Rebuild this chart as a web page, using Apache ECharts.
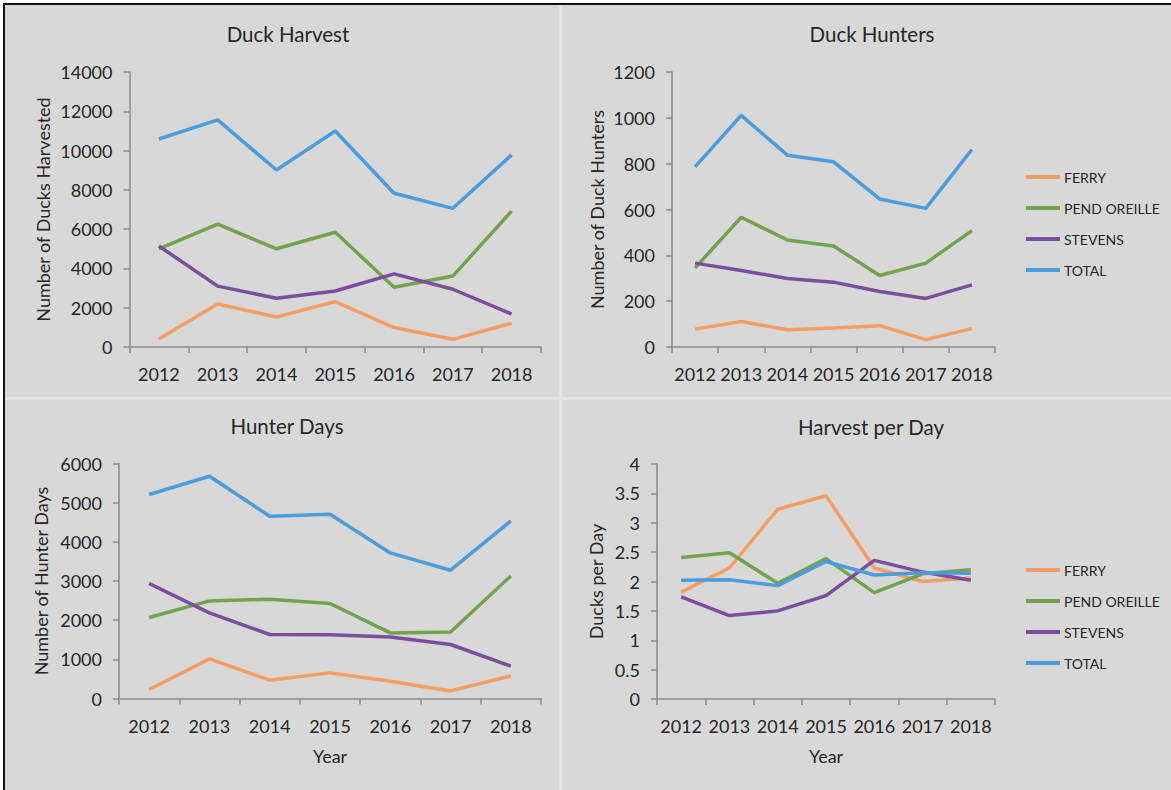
<!DOCTYPE html>
<html>
<head>
<meta charset="utf-8">
<script src="https://cdn.jsdelivr.net/npm/echarts@6/dist/echarts.min.js"></script>
<style>
  html, body { margin: 0; padding: 0; background: #ffffff; }
  #chart { width: 1171px; height: 790px; }
</style>
</head>
<body>
<div id="chart"></div>
<script>
// years on every x axis
const years = ["2012", "2013", "2014", "2015", "2016", "2017", "2018"];
const seriesNames = ["FERRY", "PEND OREILLE", "STEVENS", "TOTAL"];
const seriesColors = ["#f59d62", "#72a24e", "#7b4d9c", "#4a9cdc"];

// Duck Harvest
const harvestFerry = [410, 2190, 1530, 2310, 990, 390, 1210];
const harvestPendOreille = [4990, 6250, 5000, 5840, 3040, 3610, 6920];
const harvestStevens = [5140, 3100, 2480, 2850, 3720, 2940, 1680];
const harvestTotal = [10590, 11560, 9010, 11000, 7830, 7060, 9780];

// Duck Hunters
const huntersFerry = [78, 111, 75, 83, 93, 32, 80];
const huntersPendOreille = [345, 566, 467, 441, 312, 366, 508];
const huntersStevens = [366, 334, 299, 283, 242, 212, 271];
const huntersTotal = [786, 1011, 837, 808, 646, 605, 862];

// Hunter Days
const daysFerry = [230, 1011, 467, 654, 442, 194, 577];
const daysPendOreille = [2068, 2492, 2535, 2425, 1675, 1700, 3130];
const daysStevens = [2936, 2185, 1634, 1630, 1573, 1379, 825];
const daysTotal = [5208, 5675, 4654, 4705, 3717, 3275, 4534];

// Harvest per Day
const perDayFerry = [1.82, 2.23, 3.23, 3.46, 2.23, 2.0, 2.06];
const perDayPendOreille = [2.41, 2.49, 1.97, 2.39, 1.81, 2.13, 2.2];
const perDayStevens = [1.74, 1.42, 1.5, 1.76, 2.36, 2.16, 2.02];
const perDayTotal = [2.02, 2.03, 1.93, 2.34, 2.11, 2.15, 2.14];

const FONT = "Lato";
const textColor = "#262626";
const axisColor = "#8a8a8a";

const panels = [
  { title: "Duck Harvest", yName: "Number of Ducks Harvested", xName: "",
    max: 14000, interval: 2000, nameGap: 78,
    grid: { left: 129.5, top: 72, width: 411.5, height: 275 },
    titlePos: [283, 18],
    data: [harvestFerry, harvestPendOreille, harvestStevens, harvestTotal] },
  { title: "Duck Hunters", yName: "Number of Duck Hunters", xName: "",
    max: 1200, interval: 200, nameGap: 66,
    grid: { left: 672, top: 72, width: 323, height: 275 },
    titlePos: [867, 18],
    data: [huntersFerry, huntersPendOreille, huntersStevens, huntersTotal] },
  { title: "Hunter Days", yName: "Number of Hunter Days", xName: "Year",
    max: 6000, interval: 1000, nameGap: 69,
    grid: { left: 119, top: 463.5, width: 422, height: 235 },
    titlePos: [282, 410],
    data: [daysFerry, daysPendOreille, daysStevens, daysTotal] },
  { title: "Harvest per Day", yName: "Ducks per Day", xName: "Year",
    max: 4, interval: 0.5, nameGap: 52,
    grid: { left: 657, top: 464, width: 338, height: 235 },
    titlePos: [866, 411],
    data: [perDayFerry, perDayPendOreille, perDayStevens, perDayTotal] },
];

let grids = [], xAxes = [], yAxes = [], series = [], titles = [];

panels.forEach((p, i) => {
  grids.push(Object.assign({ containLabel: false }, p.grid));
  titles.push({
    text: p.title,
    left: p.titlePos[0],
    top: p.titlePos[1],
    textAlign: "center",
    textStyle: { fontFamily: FONT, fontSize: 20.5, fontWeight: "normal", color: textColor },
  });
  xAxes.push({
    type: "category",
    gridIndex: i,
    data: years,
    boundaryGap: true,
    name: p.xName,
    nameLocation: "middle",
    nameGap: 48,
    nameTextStyle: { fontFamily: FONT, fontSize: 18, color: textColor },
    axisLine: { lineStyle: { color: axisColor, width: 1.5 } },
    axisTick: { show: true, length: 6, lineStyle: { color: axisColor, width: 1.5 } },
    axisLabel: { interval: 0, margin: 18, fontFamily: FONT, fontSize: 18, color: textColor },
    splitLine: { show: false },
  });
  yAxes.push({
    type: "value",
    gridIndex: i,
    min: 0,
    max: p.max,
    interval: p.interval,
    name: p.yName,
    nameLocation: "middle",
    nameGap: p.nameGap,
    nameTextStyle: { fontFamily: FONT, fontSize: 18, color: textColor },
    axisLine: { show: true, lineStyle: { color: axisColor, width: 1.5 } },
    axisTick: { show: true, length: 6, lineStyle: { color: axisColor, width: 1.5 } },
    axisLabel: {
      margin: 17, fontFamily: FONT, fontSize: 18, color: textColor,
      formatter: (v) => String(v),
    },
    splitLine: { show: false },
  });
  p.data.forEach((values, k) => {
    series.push({
      name: seriesNames[k],
      type: "line",
      xAxisIndex: i,
      yAxisIndex: i,
      data: values,
      symbol: "none",
      color: seriesColors[k],
      lineStyle: { width: 3.5, color: seriesColors[k] },
    });
  });
});

function makeLegend(top) {
  return {
    orient: "vertical",
    left: 1021,
    top: top,
    data: seriesNames,
    icon: "rect",
    itemWidth: 34,
    itemHeight: 4,
    itemGap: 15,
    selectedMode: false,
    textStyle: { fontFamily: FONT, fontSize: 14, lineHeight: 16, color: textColor, padding: [0, 0, 0, -1] },
  };
}

const chartOption = {
  animation: false,
  backgroundColor: "#d8d8d8",
  title: titles,
  legend: [makeLegend(164), makeLegend(557)],
  grid: grids,
  xAxis: xAxes,
  yAxis: yAxes,
  series: series,
  graphic: [
    { type: "rect", z: 0, silent: true, shape: { x: 0, y: 0, width: 1171, height: 3 }, style: { fill: "#ffffff" } },
    { type: "rect", z: 0, silent: true, shape: { x: 0, y: 0, width: 3, height: 790 }, style: { fill: "#ffffff" } },
    { type: "rect", z: 0, silent: true, shape: { x: 3, y: 3, width: 1168, height: 2 }, style: { fill: "#111111" } },
    { type: "rect", z: 0, silent: true, shape: { x: 3, y: 3, width: 2, height: 787 }, style: { fill: "#111111" } },
    { type: "rect", z: 0, silent: true, shape: { x: 559, y: 5, width: 3, height: 785 }, style: { fill: "#e3e3e3" } },
    { type: "rect", z: 0, silent: true, shape: { x: 5, y: 397, width: 1166, height: 3 }, style: { fill: "#e3e3e3" } },
  ],
};

var chartDom = document.getElementById("chart");
let myChart = echarts.init(chartDom, null, { renderer: "svg" });
myChart.setOption(chartOption);
</script>
</body>
</html>
